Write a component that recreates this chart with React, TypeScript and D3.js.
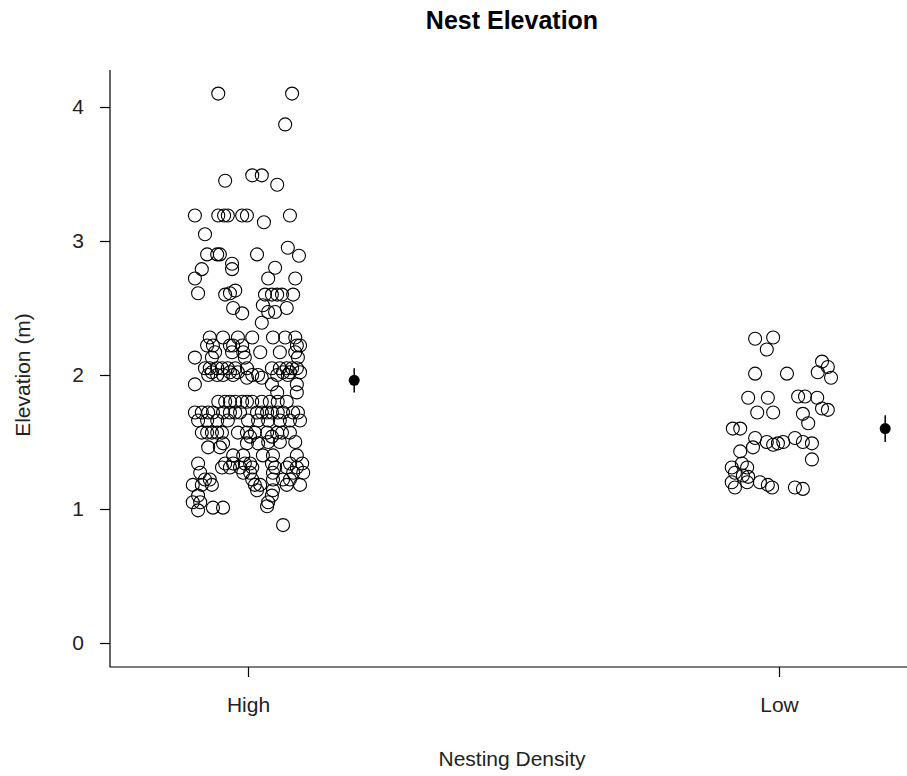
import { useEffect, useRef } from "react";
import * as d3 from "d3";

// category names on the x axis
const groups = ["High", "Low"];

// [jitter offset in category units, elevation in m]
const highPoints: [number, number][] = [
  [-0.056, 4.1], [0.083, 4.1], [0.07, 3.87], [-0.043, 3.45], [0.008, 3.49], [0.026, 3.49], [0.055, 3.42],
  [-0.1, 3.19], [-0.056, 3.19], [-0.045, 3.19], [-0.038, 3.19], [-0.011, 3.19], [-0.002, 3.19], [0.079, 3.19], [0.03, 3.14],
  [-0.081, 3.05],
  [-0.077, 2.9], [-0.058, 2.9], [-0.053, 2.9], [0.017, 2.9], [0.075, 2.95], [0.096, 2.89],
  [-0.03, 2.83], [-0.03, 2.79], [-0.087, 2.79], [-0.1, 2.72], [0.051, 2.8], [0.038, 2.72], [0.089, 2.72],
  [-0.094, 2.61], [-0.043, 2.6], [-0.034, 2.61], [-0.024, 2.63], [0.032, 2.6], [0.045, 2.6], [0.055, 2.6], [0.064, 2.6], [0.085, 2.6],
  [-0.028, 2.5], [-0.011, 2.46], [0.028, 2.52], [0.038, 2.47], [0.051, 2.47], [0.073, 2.5], [0.026, 2.39],
  [-0.072, 2.28], [-0.047, 2.28], [-0.019, 2.28], [0.008, 2.28], [0.047, 2.28], [0.07, 2.28], [0.089, 2.28],
  [-0.077, 2.22], [-0.066, 2.22], [-0.034, 2.22], [-0.028, 2.22], [-0.011, 2.22], [0.092, 2.22], [0.098, 2.22],
  [-0.062, 2.17], [-0.03, 2.17], [-0.009, 2.17], [0.023, 2.17], [0.06, 2.17], [0.089, 2.17],
  [-0.1, 2.13], [-0.068, 2.13], [-0.006, 2.13], [0.094, 2.13],
  [-0.081, 2.05], [-0.072, 2.05], [-0.058, 2.05], [-0.049, 2.05], [-0.038, 2.05], [-0.024, 2.05], [-0.002, 2.05], [0.045, 2.05], [0.06, 2.05], [0.073, 2.05], [0.083, 2.05], [0.092, 2.05],
  [-0.075, 2.0], [-0.058, 2.0], [-0.047, 2.0], [-0.028, 2.0], [0.008, 2.0], [0.019, 2.0], [0.055, 2.0], [0.075, 2.0],
  [-0.068, 2.02], [-0.034, 2.02], [-0.019, 2.02], [0.066, 2.02], [0.079, 2.02], [0.098, 2.02],
  [-0.002, 1.98], [0.026, 1.98],
  [-0.1, 1.93], [0.045, 1.93], [0.092, 1.93],
  [0.055, 1.87], [0.092, 1.87],
  [-0.056, 1.8], [-0.043, 1.8], [-0.034, 1.8], [-0.024, 1.8], [-0.011, 1.8], [-0.002, 1.8], [0.008, 1.8], [0.026, 1.8], [0.041, 1.8], [0.056, 1.8], [0.073, 1.8],
  [-0.1, 1.72], [-0.087, 1.72], [-0.075, 1.72], [-0.066, 1.72], [-0.047, 1.72], [-0.034, 1.72], [-0.024, 1.72], [-0.015, 1.72],
  [0.017, 1.72], [0.026, 1.72], [0.036, 1.72], [0.045, 1.72], [0.056, 1.72], [0.066, 1.72], [0.085, 1.72], [0.094, 1.72],
  [-0.094, 1.66], [-0.077, 1.66], [-0.058, 1.66], [-0.038, 1.66], [0.0, 1.66], [0.019, 1.66], [0.038, 1.66], [0.06, 1.66], [0.079, 1.66], [0.098, 1.66],
  [-0.087, 1.57], [-0.077, 1.57], [-0.068, 1.57], [-0.058, 1.57], [-0.049, 1.57], [-0.019, 1.57], [-0.002, 1.57], [0.013, 1.57], [0.036, 1.57], [0.055, 1.57], [0.064, 1.57], [0.079, 1.57],
  [0.004, 1.54], [0.045, 1.54],
  [0.038, 1.5], [0.06, 1.5], [0.089, 1.5],
  [-0.075, 1.46], [-0.053, 1.46], [-0.047, 1.49], [0.019, 1.49], [-0.002, 1.49],
  [-0.028, 1.4], [-0.009, 1.4], [0.028, 1.4], [0.047, 1.4], [0.092, 1.4],
  [-0.094, 1.34], [-0.043, 1.34], [-0.028, 1.34], [-0.006, 1.34], [0.004, 1.34], [0.045, 1.34], [0.079, 1.34], [0.102, 1.34],
  [-0.049, 1.31], [-0.034, 1.31], [-0.015, 1.31], [0.008, 1.31], [0.051, 1.31], [0.073, 1.31], [0.092, 1.31],
  [-0.09, 1.27], [-0.009, 1.27], [0.004, 1.27], [0.047, 1.27], [0.085, 1.27], [0.104, 1.27],
  [-0.081, 1.22], [-0.072, 1.22], [0.008, 1.22], [0.047, 1.22], [0.066, 1.22], [0.079, 1.22],
  [-0.104, 1.18], [-0.087, 1.18], [-0.068, 1.18], [0.013, 1.18], [0.023, 1.18], [0.073, 1.18], [0.098, 1.18],
  [0.017, 1.14], [0.047, 1.14],
  [-0.094, 1.1], [0.045, 1.1],
  [-0.104, 1.05], [-0.09, 1.05], [0.038, 1.05],
  [-0.066, 1.01], [-0.047, 1.01], [0.036, 1.02],
  [-0.094, 0.99],
  [0.066, 0.88],
];

const lowPoints: [number, number][] = [
  [-0.045, 2.27], [-0.011, 2.28], [-0.023, 2.19],
  [-0.045, 2.01], [0.015, 2.01],
  [0.081, 2.1], [0.092, 2.06], [0.073, 2.02], [0.098, 1.98],
  [-0.058, 1.83], [-0.021, 1.83], [-0.041, 1.72], [-0.011, 1.72],
  [0.036, 1.84], [0.049, 1.84], [0.072, 1.83], [0.081, 1.75], [0.092, 1.74], [0.045, 1.71], [0.055, 1.64],
  [-0.087, 1.6], [-0.073, 1.6],
  [-0.045, 1.53], [-0.023, 1.5], [-0.011, 1.48], [-0.002, 1.49], [0.008, 1.5], [0.03, 1.53], [0.045, 1.5], [0.062, 1.49],
  [-0.049, 1.46], [-0.073, 1.43], [0.062, 1.37],
  [-0.089, 1.31], [-0.07, 1.34], [-0.06, 1.31], [-0.083, 1.27], [-0.068, 1.25], [-0.058, 1.24],
  [-0.089, 1.2], [-0.06, 1.2], [-0.083, 1.16], [-0.036, 1.2], [-0.021, 1.18], [-0.013, 1.16], [0.03, 1.16], [0.045, 1.15],
];

// group means with standard error, drawn to the right of each cloud
const means = [1.96, 1.6];
const errors = [0.09, 0.1];
const meanOffset = 0.2;

const yTicks = [0, 1, 2, 3, 4];

export default function App() {
  const svgRef = useRef<SVGSVGElement>(null);
  const width = 907;
  const height = 776;

  useEffect(() => {
    const svg = d3.select(svgRef.current);
    svg.selectAll("*").remove();

    const left = 110;
    const bottom = 667;
    const top = 70;

    const x = d3.scalePoint<string>().domain(groups).range([248, 779]);
    const step = x.step();
    const y = d3.scaleLinear().domain([0, 4]).range([643, 107]);

    const font = "Liberation Sans, Arial, sans-serif";

    // L-shaped frame
    svg
      .append("path")
      .attr("d", `M${left},${top}V${bottom}H${width}`)
      .attr("fill", "none")
      .attr("stroke", "#000")
      .attr("stroke-width", 1.2);

    const yAxis = svg
      .append("g")
      .attr("transform", `translate(${left},0)`)
      .call(d3.axisLeft(y).tickValues(yTicks).tickSize(10).tickPadding(16).tickFormat(d3.format("d")));
    yAxis.select(".domain").remove();
    yAxis.selectAll("line").attr("stroke-width", 1.2);
    yAxis.selectAll("text").attr("font-size", 21).attr("font-family", font).attr("fill", "#222");

    const xAxis = svg
      .append("g")
      .attr("transform", `translate(0,${bottom})`)
      .call(d3.axisBottom(x).tickSize(10).tickPadding(20));
    xAxis.select(".domain").remove();
    xAxis.selectAll("line").attr("stroke-width", 1.2);
    xAxis.selectAll("text").attr("font-size", 21).attr("font-family", font).attr("fill", "#222");

    const all = [
      ...highPoints.map((p) => ({ g: "High", j: p[0], v: p[1] })),
      ...lowPoints.map((p) => ({ g: "Low", j: p[0], v: p[1] })),
    ];

    svg
      .append("g")
      .selectAll("circle")
      .data(all)
      .enter()
      .append("circle")
      .attr("cx", (d) => (x(d.g) as number) + d.j * step)
      .attr("cy", (d) => y(d.v))
      .attr("r", 6.5)
      .attr("fill", "none")
      .attr("stroke", "#000")
      .attr("stroke-width", 1.1);

    const meanG = svg.append("g");
    groups.forEach((g, i) => {
      const cx = (x(g) as number) + meanOffset * step;
      meanG
        .append("line")
        .attr("x1", cx)
        .attr("x2", cx)
        .attr("y1", y(means[i] + errors[i]))
        .attr("y2", y(means[i] - errors[i]))
        .attr("stroke", "#000")
        .attr("stroke-width", 1.5);
      meanG.append("circle").attr("cx", cx).attr("cy", y(means[i])).attr("r", 5.5).attr("fill", "#000");
    });

    svg
      .append("text")
      .attr("x", 512)
      .attr("y", 29)
      .attr("text-anchor", "middle")
      .attr("font-family", font)
      .attr("font-weight", "bold")
      .attr("font-size", 25)
      .text("Nest Elevation");

    svg
      .append("text")
      .attr("x", 512)
      .attr("y", 766)
      .attr("text-anchor", "middle")
      .attr("font-family", font)
      .attr("font-size", 21)
      .attr("fill", "#222")
      .text("Nesting Density");

    svg
      .append("text")
      .attr("transform", `translate(30,375) rotate(-90)`)
      .attr("text-anchor", "middle")
      .attr("font-family", font)
      .attr("font-size", 21)
      .attr("fill", "#222")
      .text("Elevation (m)");
  }, []);

  return (
    <svg
      ref={svgRef}
      width={width}
      height={height}
      style={{ position: "absolute", left: 0, top: 0, background: "#fff" }}
    ></svg>
  );
}
